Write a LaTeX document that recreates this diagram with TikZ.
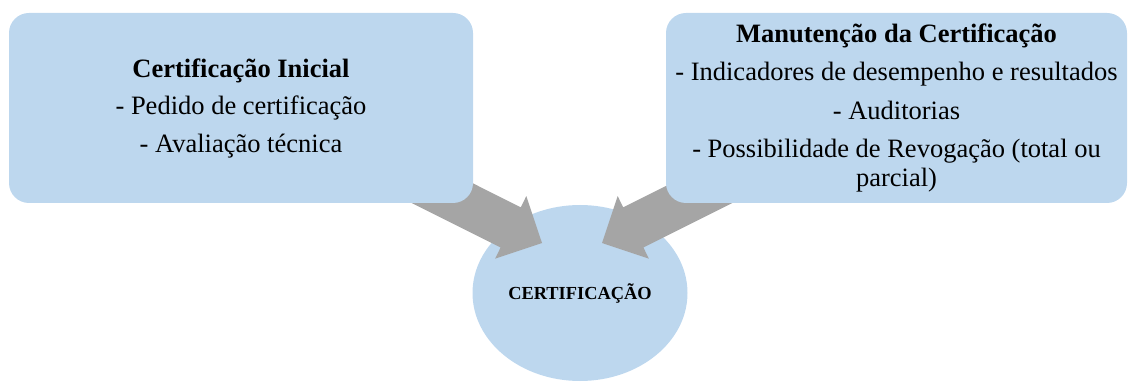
\documentclass[tikz,border=0pt]{standalone}
\usepackage{fontspec}
\setmainfont{Liberation Serif}
\usetikzlibrary{shapes.geometric}
\definecolor{boxblue}{HTML}{BDD7EE}
\definecolor{arrowgray}{HTML}{A5A5A5}
\begin{document}
\begin{tikzpicture}[x=1pt,y=-1pt,
  box/.style={fill=boxblue, rounded corners=20pt, inner sep=0pt, align=center,
    font=\fontsize{26.5}{29}\selectfont},
  bigarrow/.style={fill=arrowgray},
  centre/.style={ellipse, fill=boxblue, inner sep=0pt,
    font=\bfseries\fontsize{18.4}{20}\selectfont}]
\useasboundingbox (0,0) rectangle (1128,382);
% centre ellipse
\node[centre, minimum width=215pt, minimum height=176pt] (cert) at (580,293) {CERTIFICAÇÃO};
% block arrows
\coordinate (tipL) at (542,243);
\coordinate (tipR) at (602,243);
\fill[bigarrow, shift={(tipL)}] (0,0) -- (-46.9,15.7) -- (-41.4,4.5) -- (-139.7,-44.7)
  -- (-119.5,-84.9) -- (-21.2,-35.7) -- (-15.7,-46.9) -- cycle;
\fill[bigarrow, shift={(tipR)}] (0,0) -- (46.9,15.7) -- (41.4,4.5) -- (139.7,-44.7)
  -- (119.5,-84.9) -- (21.2,-35.7) -- (15.7,-46.9) -- cycle;
% boxes
\node[box, minimum width=464pt, minimum height=190pt] (init) at (241,108)
  {\textbf{Certificação Inicial}\\[8.5pt]- Pedido de certificação\\[8.5pt]- Avaliação técnica};
\node[box, minimum width=461pt, minimum height=190pt] (manut) at (896.5,108)
  {\textbf{Manutenção da Certificação}\\[9.5pt]- Indicadores de desempenho e resultados\\[9.5pt]- Auditorias\\[9.5pt]- Possibilidade de Revogação (total ou\\parcial)};
\end{tikzpicture}
\end{document}
